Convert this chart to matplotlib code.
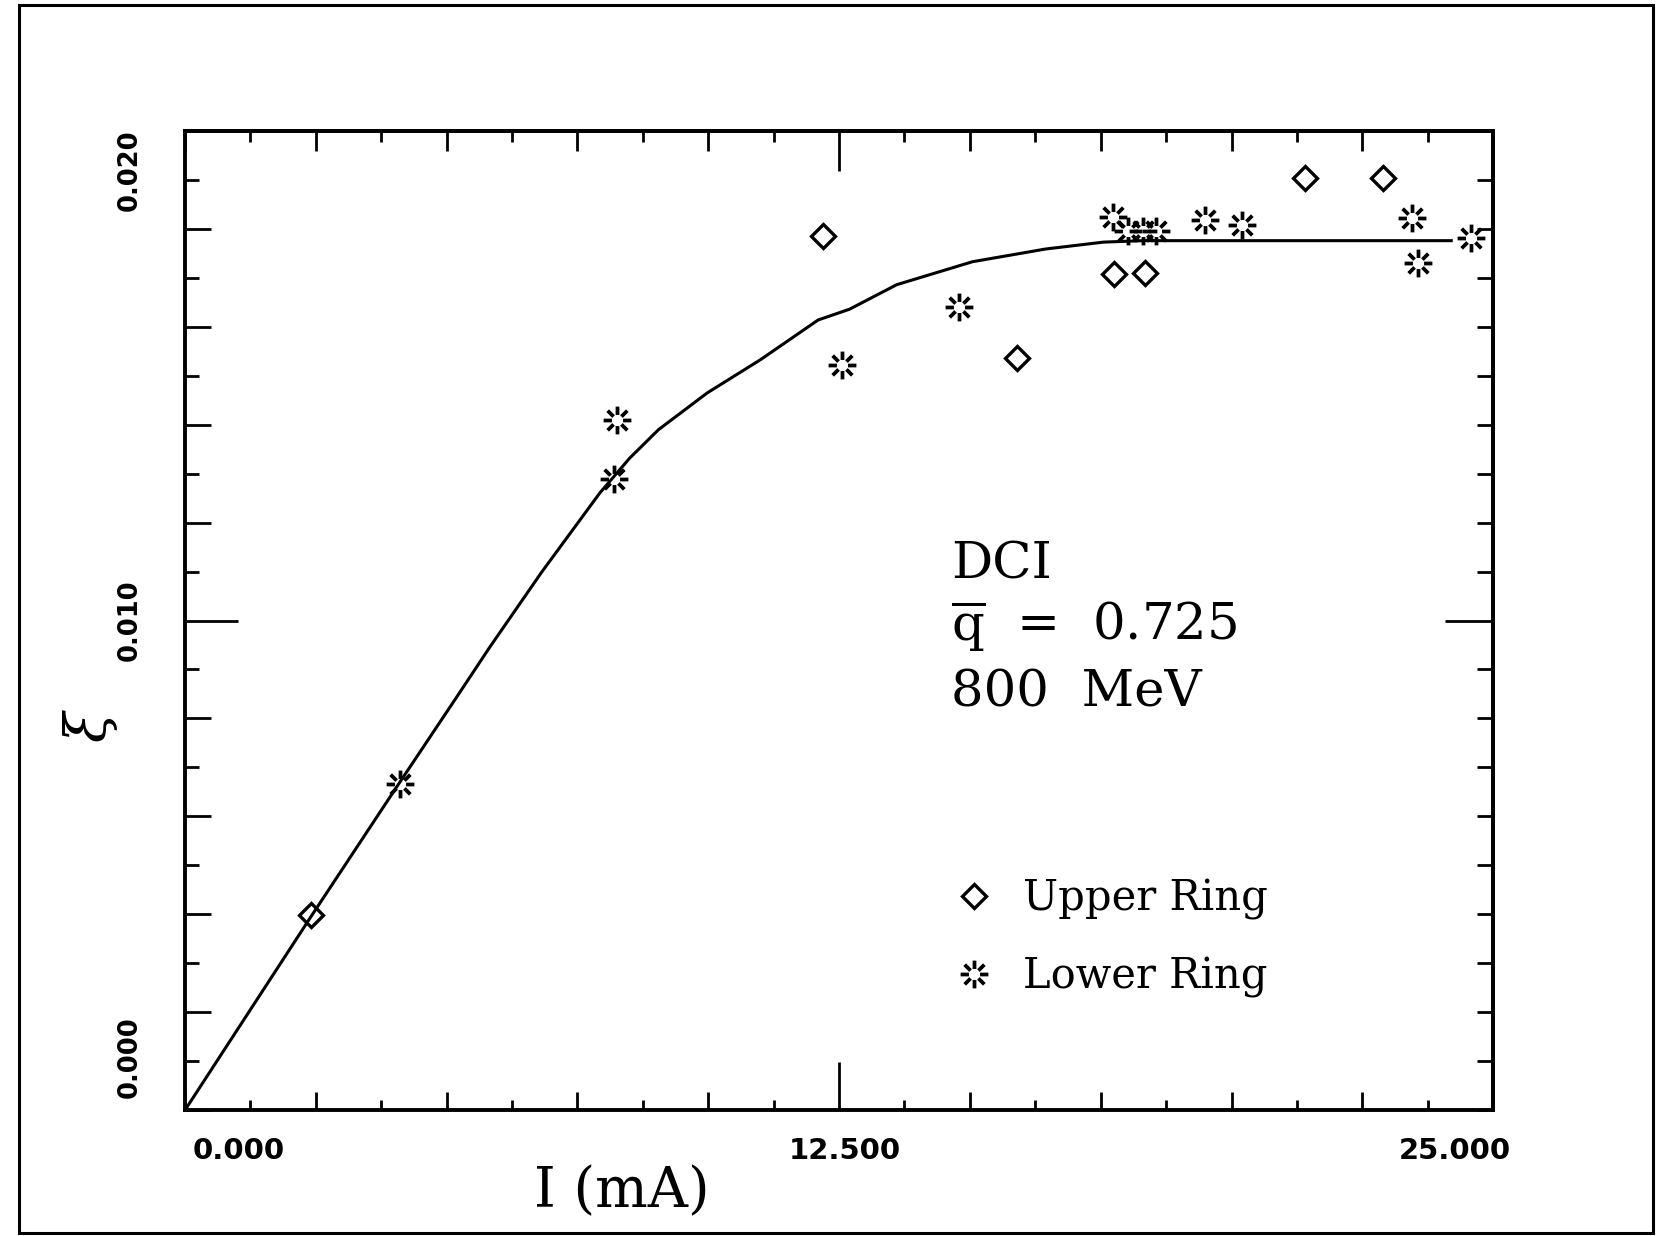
import numpy as np
import matplotlib
matplotlib.use('Agg')
import matplotlib.pyplot as plt
from matplotlib.path import Path
from matplotlib.patches import Rectangle
from matplotlib.ticker import FixedLocator, NullFormatter

plt.rcParams['font.family'] = ['DejaVu Serif']
plt.rcParams['mathtext.fontset'] = 'dejavuserif'

# ---- data ----
upper_I = [2.4, 12.2, 15.9, 17.75, 18.35, 21.4, 22.9]
upper_xi = [0.00398, 0.01786, 0.01536, 0.01708, 0.01710, 0.01904, 0.01904]

lower_I = [4.1, 8.2, 8.25, 12.55, 14.8, 17.73, 18.03, 18.30, 18.55, 19.5, 20.2,
           23.45, 23.56, 24.58]
lower_xi = [0.00667, 0.0129, 0.0141, 0.01523, 0.01641, 0.01824, 0.01796, 0.01796,
            0.01796, 0.01818, 0.01808, 0.01822, 0.01731, 0.01782]

fit_I = [0.0, 2.4, 4.1, 5.2, 5.82, 6.81, 7.93, 8.5, 9.05, 9.98, 11.0, 12.1,
         12.7, 13.6, 15.05, 16.45, 17.55, 18.3, 24.2]
fit_xi = [0.0, 0.00394, 0.00669, 0.00845, 0.00945, 0.01098, 0.01261, 0.01332,
          0.0139, 0.01465, 0.01533, 0.01614, 0.01636, 0.01686, 0.01733,
          0.01759, 0.01773, 0.01776, 0.01776]

x_ticklabels = ['0.000', '12.500', '25.000']
y_ticklabels = ['0.000', '0.010', '0.020']

# broken asterisk marker: 8 radial dashes with an empty centre
verts, codes = [], []
for a in np.deg2rad(np.arange(0, 360, 45)):
    verts += [(0.4 * np.cos(a), 0.4 * np.sin(a)), (np.cos(a), np.sin(a))]
    codes += [Path.MOVETO, Path.LINETO]
star = Path(verts, codes)

fig = plt.figure(figsize=(16.67, 12.36), dpi=100)
ax = fig.add_axes([0.111, 0.1019, 0.7847, 0.7921])

ax.plot(fit_I, fit_xi, color='black', lw=2.2)
ax.plot(upper_I, upper_xi, ls='none', marker='D', ms=12, mew=2.4,
        mfc='none', mec='black', label='Upper Ring')
ax.plot(lower_I, lower_xi, ls='none', marker=star, ms=20, mew=2.7,
        mfc='none', mec='black', label='Lower Ring')

ax.set_xlim(0, 25)
ax.set_ylim(0, 0.020)
for s in ax.spines.values():
    s.set_linewidth(2.8)

# bottom / left ticks
ax.xaxis.set_major_locator(FixedLocator(np.arange(0, 25.01, 2.5)))
ax.xaxis.set_minor_locator(FixedLocator(np.arange(1.25, 25, 2.5)))
ax.yaxis.set_major_locator(FixedLocator(np.arange(0, 0.0201, 0.002)))
ax.yaxis.set_minor_locator(FixedLocator(np.arange(0.001, 0.020, 0.002)))
ax.xaxis.set_major_formatter(NullFormatter())
ax.yaxis.set_major_formatter(NullFormatter())
ax.tick_params(axis='x', which='major', direction='in', length=13, width=2.0,
               top=False)
ax.tick_params(axis='x', which='minor', direction='in', length=7.2, width=2.0,
               top=False)
ax.tick_params(axis='y', which='major', direction='in', length=18.7, width=2.0,
               right=False)
ax.tick_params(axis='y', which='minor', direction='in', length=10, width=2.0,
               right=False)
ax.xaxis.get_major_ticks()[5].tick1line.set_markersize(34.5)
ax.yaxis.get_major_ticks()[5].tick1line.set_markersize(38)

# top / right ticks
secx = ax.secondary_xaxis('top')
secx.xaxis.set_major_locator(FixedLocator(np.arange(0, 25.01, 2.5)))
secx.xaxis.set_minor_locator(FixedLocator(np.arange(1.25, 25, 2.5)))
secx.xaxis.set_major_formatter(NullFormatter())
secx.tick_params(which='major', direction='in', length=14.4, width=2.0)
secx.tick_params(which='minor', direction='in', length=8, width=2.0)
for t in [secx.xaxis.get_major_ticks()[5]]:
    t.tick1line.set_markersize(29)
    t.tick2line.set_markersize(29)
secx.spines['top'].set_linewidth(2.8)

secy = ax.secondary_yaxis('right')
secy.yaxis.set_major_locator(FixedLocator(np.arange(0, 0.0201, 0.001)))
secy.yaxis.set_major_formatter(NullFormatter())
secy.tick_params(which='major', direction='in', length=11.5, width=2.0)
for t in [secy.yaxis.get_major_ticks()[10]]:
    t.tick1line.set_markersize(34.5)
    t.tick2line.set_markersize(34.5)
secy.spines['right'].set_linewidth(2.8)

# tick labels, placed as in the original
for xv, s in zip([1.03, 12.6, 24.26], x_ticklabels):
    ax.text(xv, -0.042, s, transform=ax.get_xaxis_transform(),
            family='DejaVu Sans', fontweight='bold', fontsize=21,
            ha='center', va='center')
for yv, s in zip([0.00108, 0.0100, 0.0192], y_ticklabels):
    ax.text(-0.042, yv, s, transform=ax.get_yaxis_transform(), rotation=90,
            family='DejaVu Sans', fontweight='bold', fontsize=18.5,
            ha='center', va='center')

fig.text(0.373, 0.036, 'I (mA)', fontsize=40, ha='center', va='center')
fig.text(0.054, 0.413, r'$\xi$', fontsize=40, rotation=90,
         ha='center', va='center')

fig.text(0.5705, 0.5316, 'DCI', fontsize=37, ha='left', va='baseline')
fig.text(0.5705, 0.4814, r'$\overline{\mathrm{q}}$  =  0.725', fontsize=37,
         ha='left', va='baseline')
fig.text(0.5705, 0.4288, '800  MeV', fontsize=37, ha='left', va='baseline')

ax.legend(loc='upper left', bbox_to_anchor=(0.5717, 0.2901),
          bbox_transform=fig.transFigure, frameon=False, fontsize=30,
          handlelength=1.0, handletextpad=0.68, labelspacing=0.86,
          borderpad=0, borderaxespad=0, numpoints=1)

# scanned page border
fig.patches.append(Rectangle((0.0114, 0.0024), 0.9802, 0.9936, fill=False,
                             lw=2.2, ec='black', transform=fig.transFigure))

plt.savefig('out.png', dpi=100)
